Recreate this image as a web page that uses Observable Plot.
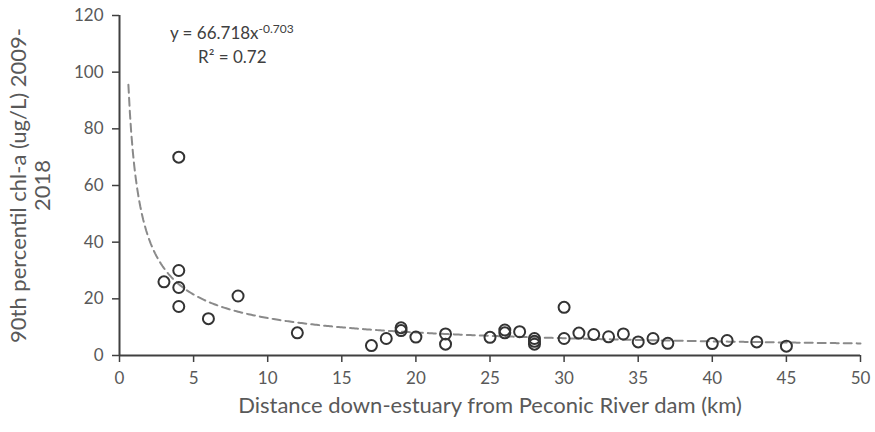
<!DOCTYPE html>
<html><head><meta charset="utf-8">
<script src="https://cdn.jsdelivr.net/npm/d3@7"></script>
<script src="https://cdn.jsdelivr.net/npm/@observablehq/plot@0.6"></script>
<style>body{margin:0;background:#fff;font-family:Lato,"Open Sans",sans-serif}</style>
</head><body><div id="chart"></div>
<script>
const distance = [3,4,4,4,4,6,8,12,17,18,19,19,20,22,22,25,26,26,27,28,28,28,30,30,31,32,33,34,35,36,37,40,41,43,45];
const chla     = [26,70,30,24,17.3,13,21,8,3.5,6,8.8,9.8,6.5,7.6,4,6.4,8,9,8.4,4,5,6,17,6,7.9,7.4,6.6,7.6,4.8,6,4.3,4.2,5.3,4.8,3.3];
const xTicks = [0,5,10,15,20,25,30,35,40,45,50];
const yTicks = [0,20,40,60,80,100,120];
const fitA = 66.718, fitB = -0.703;
const fitRange = [0.6, 50];
const eqText = ["y = 66.718x", "R² = 0.72"];
const eqExponent = "-0.703";
const eqX = [3.4, 5.3];
const eqY = [113.5, 105];
const xLabel = "Distance down-estuary from Peconic River dam (km)";
const yLabel = "90th percentil chl-a (ug/L) 2009-\n2018";

const points = distance.map((d,i)=>({x:d, y:chla[i]}));
const fit = d3.range(fitRange[0], fitRange[1]+0.001, 0.1).map(x=>({x, y: fitA*Math.pow(x, fitB)}));
const eq = eqText.map((t,i)=>({t, x:eqX[i], y:eqY[i]}));

const plot = Plot.plot({
  width: 875, height: 432,
  marginLeft: 119, marginRight: 15, marginTop: 15, marginBottom: 77,
  style: {fontFamily: "Lato, 'Open Sans', sans-serif", color: "#595959", background: "#fff"},
  x: {domain: [0,50], ticks: xTicks, label: null},
  y: {domain: [0,120], ticks: yTicks, label: null},
  marks: [
    Plot.axisX({ticks: xTicks, tickSize: 7, tickPadding: 9, fontSize: 17, stroke: "#404040", strokeWidth: 1.5, label: null}),
    Plot.axisY({ticks: yTicks, tickSize: 7, tickPadding: 9, fontSize: 17, stroke: "#404040", strokeWidth: 1.5, label: null}),
    Plot.ruleY([0], {stroke: "#404040", strokeWidth: 2}),
    Plot.ruleX([0], {stroke: "#404040", strokeWidth: 2}),
    Plot.line(fit, {x: "x", y: "y", stroke: "#8a8a8a", strokeWidth: 2, strokeDasharray: "8,5"}),
    Plot.dot(points, {x: "x", y: "y", r: 5.5, stroke: "#333", strokeWidth: 2, fill: "none"}),
    Plot.text(eq, {x: "x", y: "y", text: "t", textAnchor: "start", fontSize: 17, fill: "#404040"}),
    Plot.text([xLabel], {frameAnchor: "bottom", dy: 57, fontSize: 22, fill: "#595959"}),
    Plot.text([yLabel], {frameAnchor: "left", textAnchor: "middle", rotate: -90, dx: -89, fontSize: 22, lineHeight: 1.1, fill: "#595959"})
  ]
});
document.getElementById("chart").appendChild(plot);
// superscript exponent on the fitted equation
d3.select(plot).selectAll("text").filter(function(){return this.textContent === eqText[0];})
  .append("tspan").attr("dy", "-0.55em").attr("font-size", "12px").text(eqExponent);
</script></body></html>
